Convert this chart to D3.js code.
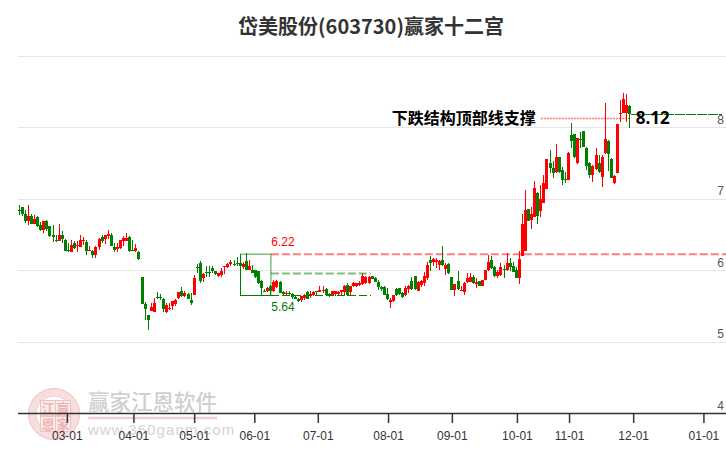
<!DOCTYPE html>
<meta charset="utf-8">
<style>
  body { margin: 0; background: #fff; }
  svg { display: block; }
  .grid line { stroke: #e6e6e6; stroke-width: 1; shape-rendering: crispEdges; }
  .grid text { fill: #555; font: 12px "Liberation Sans", sans-serif; }
  .grid path { display: none; }
  .xaxis path, .xaxis line { stroke: #333; stroke-width: 1.5; }
  .xaxis text { fill: #333; font: 12px "Liberation Sans", sans-serif; }
  .candle line, .candle rect { shape-rendering: crispEdges; }
  .crisp { shape-rendering: crispEdges; }
  .cjk { font-family: "Noto Sans CJK SC", sans-serif; }
</style>
<body>
<script src="https://d3js.org/d3.v7.min.js"></script>
<script>
var opens = [
  6.84,6.875,6.78,6.68,6.75,6.65,6.735,6.625,6.56,6.68,
  6.615,6.49,6.42,6.41,6.49,6.42,6.28,6.245,6.375,6.335,
  6.32,6.41,6.39,6.265,6.27,6.205,6.315,6.46,6.435,6.48,
  6.485,6.32,6.295,6.305,6.41,6.41,6.455,6.28,6.27,6.25,
  5.90,5.53,5.365,5.42,5.41,5.62,5.62,5.60,5.41,5.45,
  5.495,5.53,5.605,5.70,5.64,5.67,5.575,5.65,6.04,6.10,
  5.885,5.97,5.97,6.03,5.98,5.91,5.935,6.04,6.04,6.08,
  6.09,6.10,6.10,6.04,6.125,6.0,6.0,5.995,5.985,5.84,
  5.71,5.70,5.78,5.70,5.76,5.83,5.69,5.67,5.68,5.67,
  5.62,5.595,5.585,5.61,5.69,5.63,5.645,5.705,5.695,5.705,
  5.735,5.665,5.65,5.67,5.67,5.695,5.695,5.795,5.695,5.78,
  5.78,5.795,5.805,5.82,5.82,5.91,5.895,5.83,5.76,5.76,
  5.67,5.55,5.56,5.735,5.745,5.68,5.655,5.735,5.84,5.91,
  5.71,5.795,5.82,5.89,6.145,6.115,6.11,6.075,6.135,6.02,
  6.085,5.90,5.72,5.85,5.71,5.69,5.83,5.83,5.90,5.80,
  5.84,5.77,5.855,5.995,6.145,6.04,5.91,5.935,6.02,6.005,
  6.095,6.05,6.0,5.89,6.19,6.26,6.85,6.70,6.74,7.08,
  6.83,6.94,7.13,7.5,7.43,7.37,7.575,7.40,7.27,7.265,
  7.89,7.90,7.49,7.83,7.94,7.71,7.50,7.33,7.41,7.50,
  7.30,7.63,7.80,7.55,7.21,7.36,8.19,8.2,8.2,8.29
];
var closes = [
  6.83,6.78,6.69,6.755,6.65,6.71,6.615,6.56,6.68,6.57,
  6.48,6.455,6.41,6.49,6.44,6.27,6.27,6.35,6.305,6.35,
  6.42,6.42,6.27,6.28,6.21,6.32,6.435,6.41,6.485,6.505,
  6.34,6.28,6.32,6.42,6.445,6.445,6.27,6.265,6.305,6.15,
  5.52,5.45,5.30,5.485,5.54,5.615,5.615,5.45,5.505,5.475,
  5.57,5.575,5.69,5.64,5.68,5.59,5.545,5.89,6.035,5.84,
  5.95,5.96,5.96,5.98,5.95,5.96,5.985,6.06,6.09,6.115,
  6.07,6.08,6.05,6.09,6.0,6.06,5.965,5.90,5.82,5.75,
  5.70,5.75,5.70,5.83,5.84,5.675,5.665,5.68,5.665,5.62,
  5.60,5.565,5.63,5.655,5.60,5.67,5.69,5.69,5.715,5.725,
  5.65,5.64,5.70,5.70,5.695,5.715,5.78,5.655,5.78,5.82,
  5.815,5.82,5.92,5.90,5.90,5.88,5.83,5.76,5.735,5.655,
  5.595,5.585,5.645,5.655,5.665,5.62,5.745,5.78,5.735,5.735,
  5.83,5.84,5.91,6.075,6.10,6.155,6.145,6.12,6.075,6.07,
  5.96,5.72,5.81,5.73,5.725,5.82,5.89,5.90,5.82,5.83,
  5.77,5.865,5.995,6.115,6.03,5.92,5.975,6.04,6.005,6.095,
  6.04,5.975,5.89,6.15,6.64,6.84,6.69,6.79,7.14,6.75,
  7.0,7.22,7.55,7.42,7.35,7.575,7.365,7.26,7.26,7.63,
  7.81,7.58,7.85,7.82,7.72,7.46,7.33,7.45,7.61,7.37,
  7.575,7.83,7.62,7.29,7.31,8.04,8.2,8.39,8.31,8.18
];
var highs = [
  6.91,6.88,6.84,6.91,6.78,6.77,6.75,6.67,6.69,6.70,
  6.615,6.63,6.49,6.645,6.545,6.43,6.375,6.42,6.41,6.41,
  6.49,6.455,6.42,6.33,6.28,6.33,6.445,6.49,6.49,6.56,
  6.515,6.375,6.375,6.42,6.475,6.515,6.475,6.42,6.365,6.26,
  5.90,5.55,5.365,5.54,5.61,5.695,5.67,5.61,5.54,5.54,
  5.57,5.60,5.69,5.765,5.70,5.68,5.68,5.935,6.09,6.13,
  5.96,6.06,6.06,6.06,5.99,5.96,6.03,6.06,6.10,6.145,
  6.135,6.18,6.11,6.11,6.235,6.14,6.07,6.0,5.99,5.865,
  5.74,5.76,5.795,5.865,5.865,5.84,5.71,5.70,5.70,5.68,
  5.63,5.61,5.64,5.67,5.71,5.70,5.70,5.71,5.77,5.77,
  5.75,5.68,5.71,5.71,5.71,5.725,5.795,5.82,5.78,5.83,
  5.825,5.84,5.96,5.92,5.91,5.92,5.90,5.855,5.78,5.77,
  5.75,5.61,5.645,5.75,5.75,5.69,5.77,5.795,5.90,5.92,
  5.84,5.865,5.97,6.11,6.19,6.17,6.17,6.14,6.34,6.10,
  6.10,5.90,5.81,5.99,5.77,5.83,5.96,5.96,5.935,5.89,
  5.84,5.865,6.0,6.21,6.19,6.06,6.0,6.10,6.07,6.235,
  6.165,6.105,6.04,6.26,6.78,7.125,6.86,6.88,7.24,7.09,
  7.19,7.33,7.55,7.68,7.53,7.76,7.575,7.435,7.37,7.655,
  8.05,7.90,7.85,7.93,7.94,7.72,7.51,7.47,7.71,7.61,
  7.61,8.33,7.82,7.56,7.33,8.04,8.38,8.47,8.46,8.31
];
var lows = [
  6.77,6.75,6.66,6.63,6.64,6.64,6.605,6.54,6.52,6.54,
  6.455,6.385,6.385,6.41,6.375,6.27,6.245,6.245,6.29,6.245,
  6.32,6.35,6.21,6.26,6.17,6.17,6.28,6.375,6.365,6.43,
  6.33,6.255,6.255,6.30,6.34,6.41,6.255,6.265,6.255,6.135,
  5.52,5.30,5.16,5.42,5.41,5.59,5.575,5.41,5.40,5.44,
  5.44,5.495,5.60,5.625,5.625,5.59,5.51,5.65,5.96,5.825,
  5.83,5.90,5.90,5.96,5.93,5.90,5.90,5.95,6.03,6.06,
  6.05,6.05,6.04,6.02,6.0,6.0,5.96,5.89,5.80,5.655,
  5.69,5.69,5.655,5.69,5.75,5.675,5.65,5.65,5.65,5.595,
  5.59,5.55,5.55,5.575,5.60,5.61,5.63,5.65,5.69,5.68,
  5.645,5.62,5.645,5.64,5.65,5.645,5.65,5.63,5.65,5.76,
  5.76,5.78,5.795,5.81,5.81,5.87,5.83,5.725,5.71,5.645,
  5.585,5.465,5.555,5.64,5.645,5.61,5.64,5.68,5.725,5.725,
  5.71,5.76,5.77,5.855,5.98,6.05,6.03,6.0,6.06,5.935,
  5.95,5.72,5.635,5.72,5.70,5.645,5.82,5.83,5.81,5.75,
  5.77,5.77,5.855,5.99,6.015,5.90,5.89,5.92,5.885,5.99,
  5.98,5.97,5.89,5.81,6.19,6.26,6.68,6.58,6.74,6.64,
  6.74,6.94,7.13,7.36,7.29,7.36,7.35,7.19,7.22,7.265,
  7.70,7.56,7.48,7.71,7.72,7.40,7.28,7.23,7.40,7.36,
  7.16,7.62,7.38,7.28,7.2,7.36,8.07,8.2,8.07,7.98
];

var monthTicks = [15.5, 37.2, 57, 76.6, 97.3, 120.2, 141, 162.2, 179.2, 200.1, 223];
var monthLabels = ["03-01","04-01","05-01","06-01","07-01","08-01","09-01","10-01","11-01","12-01","01-01"];
var priceTicks = [4, 5, 6, 7, 8, 9];

var title = "岱美股份(603730)赢家十二宫";
var supportLabel = "下跌结构顶部线支撑";
var supportPrice = 8.12, lastClose = 8.18;
var boxHigh = 6.22, boxLow = 5.64, boxMid = 5.95;

var red = "#ff0000", green = "#008000";
var width = 726, height = 450;

var x = d3.scaleLinear().domain([0, 199]).range([19.3, 629.8]);
var y = d3.scaleLinear().domain([4, 9]).range([413, 55.5]);

var svg = d3.select("body").append("svg")
    .attr("width", width)
    .attr("height", height);

// watermark goes first, everything else sits on top of it
var wm = svg.append("g");
wm.append("circle").attr("cx", 54).attr("cy", 414).attr("r", 22)
    .attr("fill", "none").attr("stroke", "#f8dfdf").attr("stroke-width", 7);
wm.append("circle").attr("cx", 54).attr("cy", 414).attr("r", 25.5)
    .attr("fill", "none").attr("stroke", "#f0c2c2").attr("stroke-width", 1);
wm.append("circle").attr("cx", 54).attr("cy", 414).attr("r", 18)
    .attr("fill", "none").attr("stroke", "#f0c2c2").attr("stroke-width", 1);
[["江", 48, 408], ["赢", 63, 408], ["恩", 48, 424], ["家", 63, 424]].forEach(function(c) {
  wm.append("rect").attr("x", c[1] - 7.5).attr("y", c[2] - 7.5).attr("width", 15).attr("height", 15)
      .attr("fill", "#fbecec").attr("stroke", "#f0c2c2");
  wm.append("text").attr("class", "cjk").attr("x", c[1]).attr("y", c[2] + 5)
      .attr("text-anchor", "middle").attr("font-size", 13).attr("font-weight", 700)
      .attr("fill", "#eeb4b4").text(c[0]);
});
wm.append("text").attr("class", "cjk").attr("x", 88).attr("y", 410)
    .attr("font-size", 21.5).attr("font-weight", 500).attr("fill", "#cfcfcf").text("赢家江恩软件");
wm.append("line").attr("x1", 88).attr("x2", 217).attr("y1", 418).attr("y2", 418)
    .attr("stroke", "#efcfcf").attr("stroke-width", 2.5);
wm.append("text").attr("x", 88).attr("y", 435)
    .attr("font-family", "Liberation Sans").attr("font-size", 15).attr("letter-spacing", 1.1)
    .attr("fill", "#d4d4d4").text("www.360ganm.com");

// horizontal grid + price labels on the right
var grid = svg.append("g").attr("class", "grid")
    .attr("transform", "translate(" + width + ",0)")
    .call(d3.axisLeft(y).tickValues(priceTicks).tickSize(width - 18)
      .tickFormat(function(d) { return d === 9 ? "" : d; }));
grid.selectAll("line").filter(function(d) { return d === 4; }).remove();
grid.selectAll("text")
    .attr("text-anchor", "end")
    .attr("x", -2)
    .attr("dy", "-0.33em");

var xAxis = svg.append("g").attr("class", "xaxis")
    .attr("transform", "translate(0," + y(4) + ")")
    .call(d3.axisBottom(x).tickValues(monthTicks).tickSize(10).tickSizeOuter(0).tickPadding(8)
      .tickFormat(function(d, i) { return monthLabels[i]; }));
xAxis.select("path").attr("d", "M18,0.5H" + width);

// candles
var candle = svg.append("g").attr("class", "candle").selectAll("g")
    .data(opens)
    .enter()
    .append("g")
    .attr("fill", function(d, i) { return closes[i] >= d ? red : green; })
    .attr("stroke", function(d, i) { return closes[i] >= d ? red : green; });

candle.append("line")
    .attr("x1", function(d, i) { return x(i); })
    .attr("x2", function(d, i) { return x(i); })
    .attr("y1", function(d, i) { return y(highs[i]); })
    .attr("y2", function(d, i) { return y(lows[i]); });

candle.append("rect")
    .attr("stroke", "none")
    .attr("x", function(d, i) { return x(i) - 1.5; })
    .attr("width", 3)
    .attr("y", function(d, i) { return y(Math.max(d, closes[i])); })
    .attr("height", function(d, i) { return Math.max(1, Math.abs(y(d) - y(closes[i]))); });

// twelve palace box
var boxL = 72, boxR = 82, lineEnd = 229, dashEnd = 114.6;
svg.append("path")
    .attr("class", "crisp")
    .attr("d", "M" + x(boxL) + "," + y(boxHigh) + "V" + y(boxLow) + "H" + x(boxR))
    .attr("fill", "none").attr("stroke", green).attr("stroke-width", 1);
svg.append("path")
    .attr("d", "M" + x(boxL) + "," + y(boxHigh) + "H" + x(boxR) + "V" + y(boxLow))
    .attr("fill", "none").attr("stroke", green).attr("stroke-opacity", 0.5).attr("stroke-width", 1.5);
svg.append("line")
    .attr("x1", x(boxR)).attr("x2", width).attr("y1", y(boxHigh)).attr("y2", y(boxHigh))
    .attr("stroke", red).attr("stroke-opacity", 0.5).attr("stroke-width", 2).attr("stroke-dasharray", "8,3");
svg.append("line")
    .attr("x1", x(boxR)).attr("x2", x(dashEnd)).attr("y1", y(boxMid)).attr("y2", y(boxMid))
    .attr("stroke", green).attr("stroke-opacity", 0.5).attr("stroke-width", 2).attr("stroke-dasharray", "8,3");
svg.append("line")
    .attr("class", "crisp")
    .attr("x1", x(boxR)).attr("x2", x(dashEnd)).attr("y1", y(boxLow)).attr("y2", y(boxLow))
    .attr("stroke", green).attr("stroke-width", 1).attr("stroke-dasharray", "8,3");

svg.append("text")
    .attr("x", x(boxR) + 0.5).attr("y", y(boxHigh) - 8)
    .attr("font-family", "Liberation Sans").attr("font-size", 12).attr("fill", red)
    .text(boxHigh.toFixed(2));
svg.append("text")
    .attr("x", x(boxR) + 0.5).attr("y", y(boxLow) + 15)
    .attr("font-family", "Liberation Sans").attr("font-size", 12).attr("fill", green)
    .text(boxLow.toFixed(2));

// support line and last close line
svg.append("line")
    .attr("x1", x(170)).attr("x2", x(199)).attr("y1", y(supportPrice)).attr("y2", y(supportPrice))
    .attr("stroke", red).attr("stroke-opacity", 0.55).attr("stroke-width", 1.5).attr("stroke-dasharray", "2,1");
svg.append("line")
    .attr("class", "crisp")
    .attr("x1", x(199.5)).attr("x2", x(lineEnd)).attr("y1", y(lastClose)).attr("y2", y(lastClose))
    .attr("stroke", green).attr("stroke-width", 1).attr("stroke-dasharray", "10,1");

svg.append("text")
    .attr("class", "cjk")
    .attr("x", x(170) - 5).attr("y", y(supportPrice) + 6)
    .attr("text-anchor", "end").attr("font-size", 16).attr("font-weight", 700).attr("fill", "#000")
    .text(supportLabel);
svg.append("text")
    .attr("x", x(199) + 6).attr("y", y(supportPrice) + 6)
    .attr("font-family", "Open Sans").attr("font-size", 17).attr("font-weight", 700).attr("fill", "#000")
    .text(supportPrice.toFixed(2));

svg.append("text")
    .attr("class", "cjk")
    .attr("x", 371).attr("y", 34)
    .attr("text-anchor", "middle").attr("font-size", 20).attr("font-weight", 700).attr("fill", "#333")
    .text(title);
</script>
</body>
